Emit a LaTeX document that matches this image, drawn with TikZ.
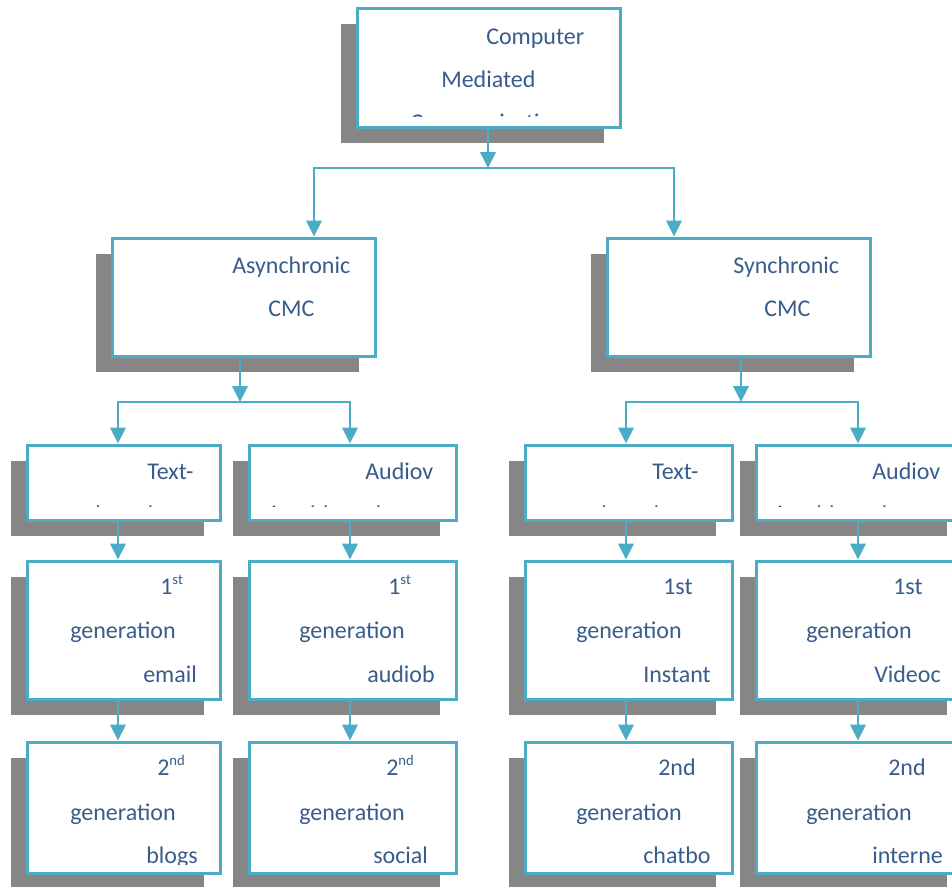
\documentclass[tikz,border=0pt]{standalone}
\usepackage{fontspec}
\setmainfont{Carlito}
\usetikzlibrary{arrows.meta,fit}

\definecolor{cmcline}{RGB}{75,172,198}
\definecolor{cmcshadow}{RGB}{134,134,134}
\definecolor{cmctext}{RGB}{56,93,140}

\tikzset{
  cbox/.style={draw=cmcline, line width=2.25pt, fill=white, inner sep=0pt, rectangle},
  conn/.style={draw=cmcline, line width=2pt},
  txt/.style={anchor=base west, inner sep=0pt, text=cmctext, font=\fontsize{18}{18}\selectfont},
}

% box with a solid offset shadow: name, x1, y1, x2, y2 (pixel units, y downwards)
\newcommand\cmcbox[5]{%
  \fill[cmcshadow] ({#2-16},{#3+16}) rectangle ({#4-16},{#5+16});
  \node[cbox, fit={(#2,#3) (#4,#5)}] (#1) {};
}
% text inside a box is cut off a little above its lower border
\newcommand\cmcclip[2][9pt]{%
  \clip ([xshift=1.5pt,yshift=-1.5pt]#2.north west) rectangle ([xshift=-1.5pt,yshift=#1]#2.south east);
}
\newcommand\sups[1]{\raisebox{7.5pt}{\fontsize{11}{11}\selectfont #1}}

\begin{document}
\begin{tikzpicture}[x=0.75pt, y=-0.75pt, >={Triangle[length=12pt,width=11.5pt]}]
\useasboundingbox (0,0) rectangle (952,886);
\clip (0,0) rectangle (952,886);

% ---- boxes
\cmcbox{top}{357}{8}{620}{127}
\cmcbox{asyn}{112}{238}{375}{356}
\cmcbox{syn}{607}{238}{870}{356}

\cmcbox{tb1}{27}{445}{220}{520}
\cmcbox{av1}{249}{445}{456}{520}
\cmcbox{tb2}{525}{445}{732}{520}
\cmcbox{av2}{756}{445}{963}{520}

\cmcbox{ga1}{27}{561}{220}{699}
\cmcbox{gb1}{249}{561}{456}{699}
\cmcbox{gc1}{525}{561}{732}{699}
\cmcbox{gd1}{756}{561}{963}{699}

\cmcbox{ga2}{27}{742}{220}{873}
\cmcbox{gb2}{249}{742}{456}{873}
\cmcbox{gc2}{525}{742}{732}{873}
\cmcbox{gd2}{756}{742}{963}{873}

% ---- texts
\begin{scope}\cmcclip[8.8pt]{top}
  \node[txt] (top-a) at (486,44) {Computer};
  \node[txt] (top-b) at (441,87) {Mediated};
  \node[txt] (top-c) at (410,130) {Communication};
\end{scope}
\begin{scope}\cmcclip{asyn}
  \node[txt] (asyn-a) at (232,273) {Asynchronic};
  \node[txt] (asyn-b) at (268,316) {CMC};
\end{scope}
\begin{scope}\cmcclip{syn}
  \node[txt] (syn-a) at (733,273) {Synchronic};
  \node[txt] (syn-b) at (764,316) {CMC};
\end{scope}

\begin{scope}\cmcclip[11pt]{tb1}
  \node[txt] (tb1-a) at (147,479) {Text-};
  \node[txt] (tb1-b) at (95,522) {based};
\end{scope}
\begin{scope}\cmcclip[11pt]{av1}
  \node[txt] (av1-a) at (365,479) {Audiov};
  \node[txt] (av1-b) at (271,522) {isual-based};
\end{scope}
\begin{scope}\cmcclip[11pt]{tb2}
  \node[txt] (tb2-a) at (652,479) {Text-};
  \node[txt] (tb2-b) at (601,522) {based};
\end{scope}
\begin{scope}\cmcclip[11pt]{av2}
  \node[txt] (av2-a) at (872,479) {Audiov};
  \node[txt] (av2-b) at (777,522) {isual-based};
\end{scope}

\begin{scope}\cmcclip{ga1}
  \node[txt] (ga1-a) at (160,594) {1\sups{st}};
  \node[txt] (ga1-b) at (70,638) {generation};
  \node[txt] (ga1-c) at (143,682) {email};
\end{scope}
\begin{scope}\cmcclip{gb1}
  \node[txt] (gb1-a) at (388,594) {1\sups{st}};
  \node[txt] (gb1-b) at (299,638) {generation};
  \node[txt] (gb1-c) at (367,682) {audiob};
\end{scope}
\begin{scope}\cmcclip{gc1}
  \node[txt] (gc1-a) at (663,594) {1st};
  \node[txt] (gc1-b) at (576,638) {generation};
  \node[txt] (gc1-c) at (643,682) {Instant};
\end{scope}
\begin{scope}\cmcclip{gd1}
  \node[txt] (gd1-a) at (893,594) {1st};
  \node[txt] (gd1-b) at (806,638) {generation};
  \node[txt] (gd1-c) at (874,682) {Videoc};
\end{scope}

\begin{scope}\cmcclip[7.8pt]{ga2}
  \node[txt] (ga2-a) at (157,775) {2\sups{nd}};
  \node[txt] (ga2-b) at (70,820) {generation};
  \node[txt] (ga2-c) at (146,863) {blogs};
\end{scope}
\begin{scope}\cmcclip[7.8pt]{gb2}
  \node[txt] (gb2-a) at (386,775) {2\sups{nd}};
  \node[txt] (gb2-b) at (299,820) {generation};
  \node[txt] (gb2-c) at (373,863) {social};
\end{scope}
\begin{scope}\cmcclip[7.8pt]{gc2}
  \node[txt] (gc2-a) at (658,775) {2nd};
  \node[txt] (gc2-b) at (576,820) {generation};
  \node[txt] (gc2-c) at (643,863) {chatbo};
\end{scope}
\begin{scope}\cmcclip[7.8pt]{gd2}
  \node[txt] (gd2-a) at (888,775) {2nd};
  \node[txt] (gd2-b) at (806,820) {generation};
  \node[txt] (gd2-c) at (872,863) {interne};
\end{scope}

% ---- connectors
\coordinate (jt) at (488,168);
\coordinate (jtl) at (314,168);
\coordinate (jtr) at (674,168);
\draw[conn,->] (jt |- top.south) -- (jt);
\draw[conn,<->] (jtl |- asyn.north) -- (jtl) -- (jtr) -- (jtr |- syn.north);

\coordinate (ja) at (240,402);
\coordinate (c1) at (118,402);
\coordinate (c2) at (350,402);
\draw[conn,->] (ja |- asyn.south) -- (ja);
\draw[conn,<->] (c1 |- tb1.north) -- (c1) -- (c2) -- (c2 |- av1.north);

\coordinate (js) at (741,402);
\coordinate (c3) at (626,402);
\coordinate (c4) at (858,402);
\draw[conn,->] (js |- syn.south) -- (js);
\draw[conn,<->] (c3 |- tb2.north) -- (c3) -- (c4) -- (c4 |- av2.north);

\draw[conn,->] (c1 |- tb1.south) -- (c1 |- ga1.north);
\draw[conn,->] (c2 |- av1.south) -- (c2 |- gb1.north);
\draw[conn,->] (c3 |- tb2.south) -- (c3 |- gc1.north);
\draw[conn,->] (c4 |- av2.south) -- (c4 |- gd1.north);

\draw[conn,->] (c1 |- ga1.south) -- (c1 |- ga2.north);
\draw[conn,->] (c2 |- gb1.south) -- (c2 |- gb2.north);
\draw[conn,->] (c3 |- gc1.south) -- (c3 |- gc2.north);
\draw[conn,->] (c4 |- gd1.south) -- (c4 |- gd2.north);
\end{tikzpicture}
\end{document}
